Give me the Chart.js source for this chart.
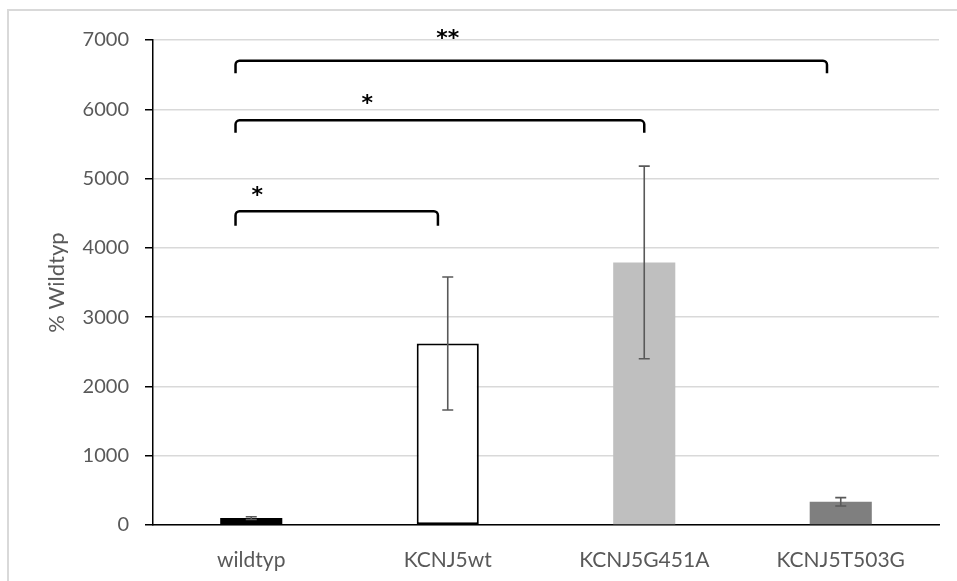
<!DOCTYPE html>
<html>
<head>
<meta charset="utf-8">
<script src="https://cdn.jsdelivr.net/npm/chart.js@4.4.1/dist/chart.umd.min.js"></script>
<style>
  html, body { margin: 0; padding: 0; background: #fff; }
  #wrap { position: relative; width: 957px; height: 581px; overflow: hidden; }
  #frame { position: absolute; left: 7px; top: 9px; width: 980px; height: 600px;
           border-left: 2px solid #d9d9d9; border-top: 2px solid #d9d9d9; }
  #chart1 { position: absolute; left: 0; top: 0; }
</style>
</head>
<body>
<div id="wrap">
  <div id="frame"></div>
  <canvas id="chart1" width="957" height="581"></canvas>
</div>
<script>
// values
const categories = ['wildtyp', 'KCNJ5wt', 'KCNJ5G451A', 'KCNJ5T503G'];
const means = [100, 2620, 3790, 335];
const errors = [20, 960, 1390, 60];

// significance brackets (x in category units, y in % Wildtyp)
const bracketStart = [-0.08, -0.08, -0.08];
const bracketEnd = [0.95, 2.0, 2.93];
const bracketTop = [4530, 5840, 6700];
const bracketLeg = [4320, 5660, 6520];
const starX = [0.03, 0.59, 1.0];
const starY = [4835, 6165, 7100];
const starText = ['*', '*', '**'];

const FONT = 'Lato, "Open Sans", sans-serif';
const TXT = '#595959';

const errorBars = {
    id: 'errorBars',
    afterDatasetsDraw(chart) {
        const ctx = chart.ctx;
        const y = chart.scales.y;
        const meta = chart.getDatasetMeta(0);
        ctx.save();
        ctx.strokeStyle = '#595959';
        ctx.lineWidth = 1.6;
        meta.data.forEach((bar, i) => {
            const hi = y.getPixelForValue(means[i] + errors[i]);
            const lo = y.getPixelForValue(means[i] - errors[i]);
            ctx.beginPath();
            ctx.moveTo(bar.x, hi); ctx.lineTo(bar.x, lo);
            ctx.moveTo(bar.x - 5.5, hi); ctx.lineTo(bar.x + 5.5, hi);
            ctx.moveTo(bar.x - 5.5, lo); ctx.lineTo(bar.x + 5.5, lo);
            ctx.stroke();
        });
        ctx.restore();
    }
};

const brackets = {
    id: 'brackets',
    afterDraw(chart) {
        const ctx = chart.ctx;
        const x = chart.scales.x;
        const y = chart.scales.y;
        ctx.save();
        ctx.strokeStyle = '#000';
        ctx.lineWidth = 2.5;
        for (let i = 0; i < bracketTop.length; i++) {
            const x1 = x.getPixelForValue(bracketStart[i]);
            const x2 = x.getPixelForValue(bracketEnd[i]);
            const yt = y.getPixelForValue(bracketTop[i]);
            const yl = y.getPixelForValue(bracketLeg[i]);
            ctx.beginPath();
            ctx.moveTo(x1, yl);
            ctx.arcTo(x1, yt, x2, yt, 4);
            ctx.arcTo(x2, yt, x2, yl, 4);
            ctx.lineTo(x2, yl);
            ctx.stroke();
        }
        ctx.fillStyle = '#000';
        ctx.font = 'bold 22px "DejaVu Sans", sans-serif';
        ctx.textAlign = 'center';
        ctx.textBaseline = 'alphabetic';
        for (let i = 0; i < starText.length; i++) {
            const sx = x.getPixelForValue(starX[i]);
            const sy = y.getPixelForValue(starY[i]);
            ctx.fillText(starText[i], sx, sy + 12);
        }
        ctx.restore();
    }
};

const ctx = document.getElementById('chart1');
const chart1 = new Chart(ctx, {
    type: 'bar',
    data: {
        labels: categories,
        datasets: [{
            data: means,
            backgroundColor: ['#000000', '#ffffff', '#bfbfbf', '#7f7f7f'],
            borderColor: '#000000',
            borderWidth: [0, 2, 0, 0],
            borderSkipped: false,
            barPercentage: 0.316,
            categoryPercentage: 1
        }]
    },
    options: {
        responsive: false,
        animation: false,
        layout: { padding: { left: 30, right: 18, top: 40, bottom: 0 } },
        plugins: { legend: { display: false }, tooltip: { enabled: false } },
        scales: {
            x: {
                grid: { display: false },
                border: { display: true, color: '#000', width: 1.5 },
                ticks: { color: TXT, font: { family: FONT, size: 21 }, padding: 15 },
                afterFit(s) { s.height = 56; }
            },
            y: {
                min: 0,
                max: 7000,
                ticks: { stepSize: 1000, color: TXT, font: { family: FONT, size: 20 }, padding: 16,
                         callback: v => String(v) },
                grid: { color: '#d9d9d9', lineWidth: 1.5, tickColor: '#000', tickLength: 8, drawTicks: true },
                border: { display: true, color: '#000', width: 1.5 },
                title: { display: true, text: '% Wildtyp', color: TXT, font: { family: FONT, size: 22 },
                         padding: { top: 14, bottom: 0 } },
                afterFit(s) { s.width = 123; }
            }
        }
    },
    plugins: [errorBars, brackets]
});
</script>
</body>
</html>
